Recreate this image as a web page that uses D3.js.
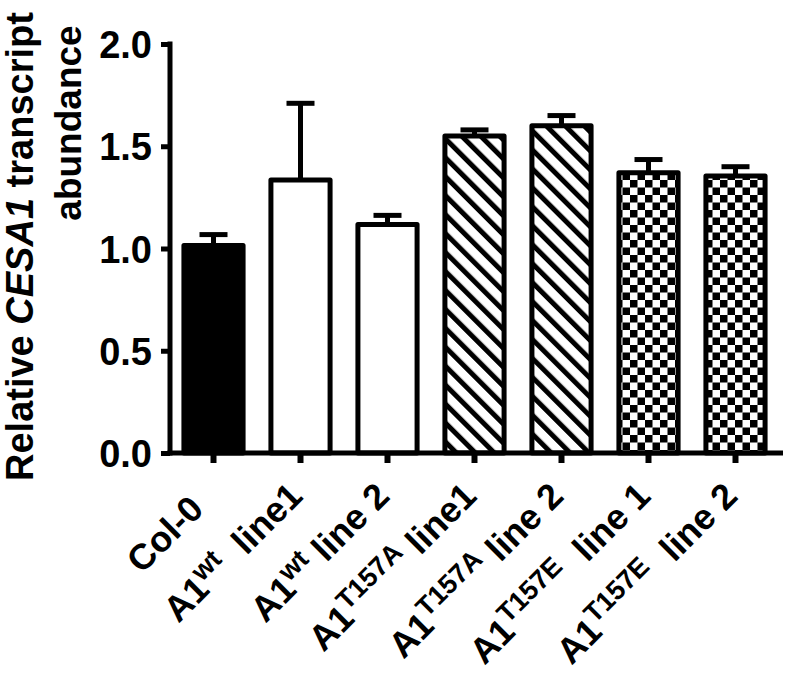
<!DOCTYPE html>
<html>
<head>
<meta charset="utf-8">
<script src="https://cdn.jsdelivr.net/npm/d3@7"></script>
<style>
  body { margin: 0; background: #fff; }
  text { font-family: "Liberation Sans", Arial, sans-serif; font-weight: bold; white-space: pre; }
</style>
</head>
<body>
<svg width="787" height="673"></svg>
<script>
// data
var groups = ["Col-0", "A1wt line1", "A1wt line2", "A1T157A line1", "A1T157A line2", "A1T157E line1", "A1T157E line2"];
var labelBase = ["Col-0", "A1", "A1", "A1", "A1", "A1", "A1"];
var labelSup = ["", "wt", "wt", "T157A", "T157A", "T157E", "T157E"];
var labelTail = ["", "  line1", " line 2", " line1", " line 2", "  line 1", "  line 2"];
var means = [1.015, 1.335, 1.117, 1.55, 1.60, 1.37, 1.355];
var errors = [0.053, 0.375, 0.045, 0.03, 0.05, 0.065, 0.045];
var fills = ["solid", "open", "open", "hatch", "hatch", "check", "check"];
var yTicks = [0.0, 0.5, 1.0, 1.5, 2.0];

var svg = d3.select("svg");
var defs = svg.append("defs");

var hatch = defs.append("pattern")
  .attr("id", "hatch")
  .attr("patternUnits", "userSpaceOnUse")
  .attr("width", 13.4).attr("height", 13.4)
  .attr("patternTransform", "rotate(-45)");
hatch.append("rect").attr("width", 13.4).attr("height", 13.4).attr("fill", "#fff");
hatch.append("rect").attr("x", 0).attr("width", 5).attr("height", 13.4).attr("fill", "#000");

var check = defs.append("pattern")
  .attr("id", "check")
  .attr("patternUnits", "userSpaceOnUse")
  .attr("width", 15).attr("height", 15);
check.append("rect").attr("width", 15).attr("height", 15).attr("fill", "#fff");
check.append("rect").attr("width", 7.5).attr("height", 7.5).attr("fill", "#000");
check.append("rect").attr("x", 7.5).attr("y", 7.5).attr("width", 7.5).attr("height", 7.5).attr("fill", "#000");

var fillOf = {solid: "#000", open: "#fff", hatch: "url(#hatch)", check: "url(#check)"};

var x = d3.scaleBand()
  .domain(groups)
  .range([170, 779])
  .paddingInner(0.32)
  .paddingOuter(0.16);

var y = d3.scaleLinear()
  .domain([0, 2])
  .range([453, 44]);

var g = svg.append("g");

// bars
g.selectAll(".bar")
  .data(groups)
  .enter().append("rect")
  .attr("class", "bar")
  .attr("x", function(d) { return x(d); })
  .attr("width", x.bandwidth())
  .attr("y", function(d, i) { return y(means[i]); })
  .attr("height", function(d, i) { return y(0) - y(means[i]); })
  .attr("fill", function(d, i) { return fillOf[fills[i]]; })
  .attr("stroke", "#000")
  .attr("stroke-width", 5)
  .attr("stroke-linejoin", "round");

// error bars (upper only)
g.selectAll(".err")
  .data(groups)
  .enter().append("line")
  .attr("class", "err")
  .attr("x1", function(d) { return x(d) + x.bandwidth() / 2; })
  .attr("x2", function(d) { return x(d) + x.bandwidth() / 2; })
  .attr("y1", function(d, i) { return y(means[i]); })
  .attr("y2", function(d, i) { return y(means[i] + errors[i]); })
  .attr("stroke", "#000")
  .attr("stroke-width", 5);

g.selectAll(".cap")
  .data(groups)
  .enter().append("line")
  .attr("class", "cap")
  .attr("x1", function(d) { return x(d) + x.bandwidth() / 2 - 14; })
  .attr("x2", function(d) { return x(d) + x.bandwidth() / 2 + 14; })
  .attr("y1", function(d, i) { return y(means[i] + errors[i]); })
  .attr("y2", function(d, i) { return y(means[i] + errors[i]); })
  .attr("stroke", "#000")
  .attr("stroke-width", 5);

// y axis
var yAxis = g.append("g")
  .attr("transform", "translate(170,0)")
  .call(d3.axisLeft(y).tickValues(yTicks).tickFormat(d3.format(".1f")).tickSize(9).tickPadding(9));
yAxis.select(".domain").attr("stroke-width", 5).attr("d", "M0," + (y(0) + 2.5) + "V" + (y(2) - 2.5));
yAxis.selectAll(".tick line").attr("stroke-width", 5);
yAxis.selectAll(".tick text").attr("font-size", 38).attr("font-family", "Liberation Sans, Arial, sans-serif").attr("font-weight", "bold").attr("fill", "#000").attr("dy", "0.36em");

// x axis
var xAxis = g.append("g")
  .attr("transform", "translate(0," + y(0) + ")")
  .call(d3.axisBottom(x).tickSize(10).tickFormat(""));
xAxis.select(".domain").attr("stroke-width", 5).attr("d", "M167.5,0H783");
xAxis.selectAll(".tick line").attr("stroke-width", 6);

// x labels, rotated; plain labels sit a little further back along the slant
var lab = g.selectAll(".xlab")
  .data(groups)
  .enter().append("text")
  .attr("class", "xlab")
  .attr("font-size", 36)
  .attr("text-anchor", "end")
  .attr("transform", function(d, i) {
    var cx = x(d) + x.bandwidth() / 2 + 4, cy = 498;
    if (!labelSup[i]) { cx -= 12; cy += 13; }
    return "translate(" + cx + "," + cy + ") rotate(-45)";
  });
lab.append("tspan").text(function(d, i) { return labelBase[i]; });
lab.append("tspan")
  .attr("font-size", 27)
  .attr("dy", function(d, i) { return labelSup[i] ? -13 : 0; })
  .text(function(d, i) { return labelSup[i]; });
lab.append("tspan")
  .attr("dy", function(d, i) { return labelSup[i] ? 13 : 0; })
  .text(function(d, i) { return labelTail[i]; });

// y title
var t1 = svg.append("text")
  .attr("font-size", 38)
  .attr("text-anchor", "start")
  .attr("transform", "translate(33,481) rotate(-90)");
t1.append("tspan").text("Relative ");
t1.append("tspan").attr("font-style", "italic").text("CESA1");
t1.append("tspan").text(" transcript");

svg.append("text")
  .attr("font-size", 37)
  .attr("text-anchor", "middle")
  .attr("transform", "translate(81,123) rotate(-90)")
  .text("abundance");
</script>
</body>
</html>
